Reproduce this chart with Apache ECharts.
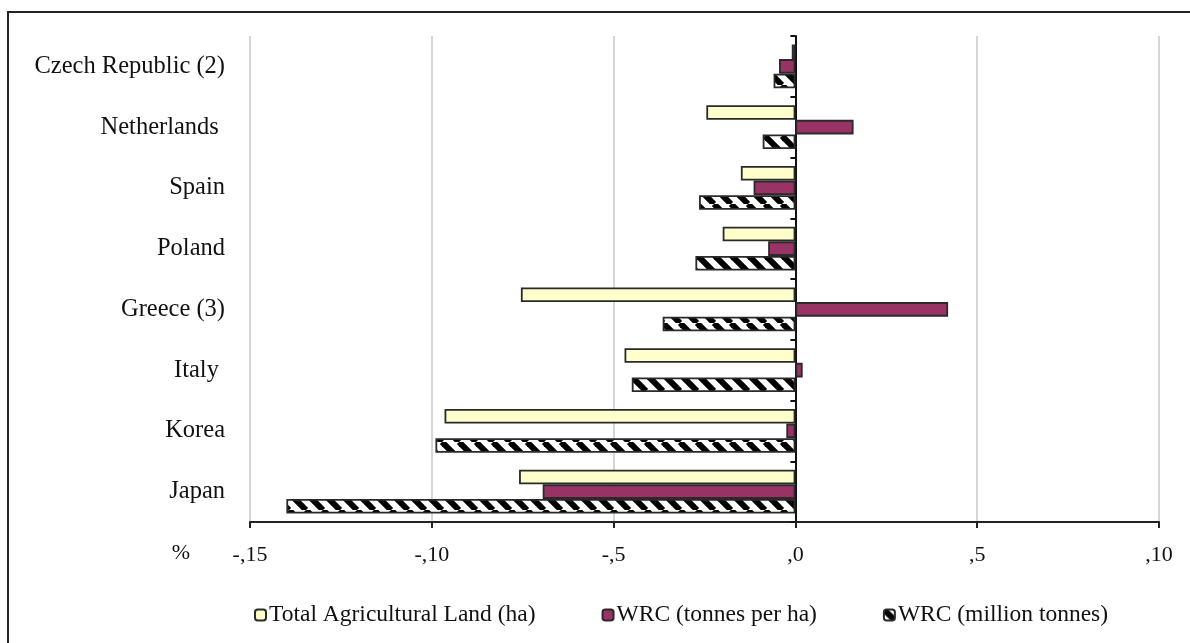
<!DOCTYPE html>
<html>
<head>
<meta charset="utf-8">
<script src="https://cdn.jsdelivr.net/npm/echarts@6/dist/echarts.min.js"></script>
<style>
  html, body { margin: 0; padding: 0; background: #fff; }
  #chart { width: 1190px; height: 643px; }
</style>
</head>
<body>
<div id="chart"></div>
<script>
// Countries, listed bottom to top along the category axis
const countries = ['Japan', 'Korea', 'Italy ', 'Greece (3)', 'Poland', 'Spain', 'Netherlands ', 'Czech Republic (2)'];

// Percentage change per country
const totalAgriLand = [-7.6, -9.65, -4.7, -7.55, -2.0, -1.5, -2.45, -0.1];
const wrcPerHa      = [-6.95, -0.25, 0.2, 4.2, -0.75, -1.15, 1.6, -0.45];
const wrcMillionT   = [-14.0, -9.9, -4.5, -3.65, -2.75, -2.65, -0.9, -0.6];

const seriesNames = ['Total Agricultural Land (ha)', 'WRC (tonnes per ha)', 'WRC (million tonnes)'];

// Value axis ticks and their printed labels
const tickValues = [-15, -10, -5, 0, 5, 10];
const tickLabels = ['-,15', '-,10', '-,5', ',0', ',5', ',10'];

const SERIF = "'Liberation Serif', 'Times New Roman', serif";

// Diagonal black/white hatch fill
function makeHatch() {
  const P = 17;
  const c = document.createElement('canvas');
  c.width = P; c.height = P;
  const g = c.getContext('2d');
  g.fillStyle = '#fff';
  g.fillRect(0, 0, P, P);
  g.strokeStyle = '#000';
  g.lineWidth = 6;
  for (let k = -1; k <= 1; k++) {
    g.beginPath();
    g.moveTo(k * P, 0);
    g.lineTo(k * P + P, P);
    g.stroke();
  }
  return c;
}
const hatch = makeHatch();

const chart = echarts.init(document.getElementById('chart'));

const barBase = {
  type: 'bar',
  yAxisIndex: 0,
  barGap: '0%',
  barCategoryGap: '28%',
  animation: false
};

chart.setOption({
  backgroundColor: '#fff',
  textStyle: { fontFamily: SERIF },
  grid: { left: 250, right: 31, top: 36, bottom: 121, containLabel: false },
  legend: {
    left: 249,
    top: 598,
    itemWidth: 11,
    itemHeight: 11,
    itemGap: 66,
    textStyle: { fontFamily: SERIF, fontSize: 23.5, color: '#111', padding: [0, 0, 0, -2] },
    data: seriesNames
  },
  xAxis: {
    type: 'value',
    min: -15,
    max: 10,
    interval: 5,
    axisLine: { show: true, onZero: false, lineStyle: { color: '#222', width: 2 } },
    axisTick: { show: true, length: 6, lineStyle: { color: '#222', width: 2 } },
    axisLabel: {
      margin: 22,
      fontFamily: SERIF,
      fontSize: 22,
      color: '#111',
      formatter: v => tickLabels[tickValues.indexOf(v)]
    },
    splitLine: { show: true, lineStyle: { color: '#c8c8c8', width: 1.5 } }
  },
  yAxis: [
    {
      // category names along the left edge
      type: 'category',
      data: countries,
      position: 'left',
      axisLine: { show: false, onZero: false },
      axisTick: { show: false },
      axisLabel: { margin: 25, fontFamily: SERIF, fontSize: 24.5, color: '#111' }
    },
    {
      // axis line through zero with its band ticks
      type: 'category',
      data: countries,
      position: 'left',
      axisLine: { show: true, onZero: true, lineStyle: { color: '#111', width: 2 } },
      axisTick: { show: true, length: 5, lineStyle: { color: '#111', width: 2 } },
      axisLabel: { show: false }
    }
  ],
  graphic: [
    {
      type: 'rect',
      silent: true,
      shape: { x: 8, y: 12, width: 1200, height: 700 },
      style: { fill: 'none', stroke: '#222', lineWidth: 2 }
    },
    {
      type: 'text',
      silent: true,
      x: 181,
      y: 553,
      style: {
        text: '%',
        font: "22px 'Liberation Serif', 'Times New Roman', serif",
        fill: '#111',
        align: 'center',
        verticalAlign: 'middle'
      }
    }
  ],
  series: [
    Object.assign({}, barBase, {
      name: seriesNames[0],
      data: totalAgriLand,
      itemStyle: { color: '#ffffcc', borderColor: '#2a2a2a', borderWidth: 1.8 }
    }),
    Object.assign({}, barBase, {
      name: seriesNames[1],
      data: wrcPerHa,
      itemStyle: { color: '#993366', borderColor: '#2a2a2a', borderWidth: 1.8 }
    }),
    Object.assign({}, barBase, {
      name: seriesNames[2],
      data: wrcMillionT,
      itemStyle: { color: { image: hatch, repeat: 'repeat' }, borderColor: '#2a2a2a', borderWidth: 1.8 }
    })
  ]
});
</script>
</body>
</html>
